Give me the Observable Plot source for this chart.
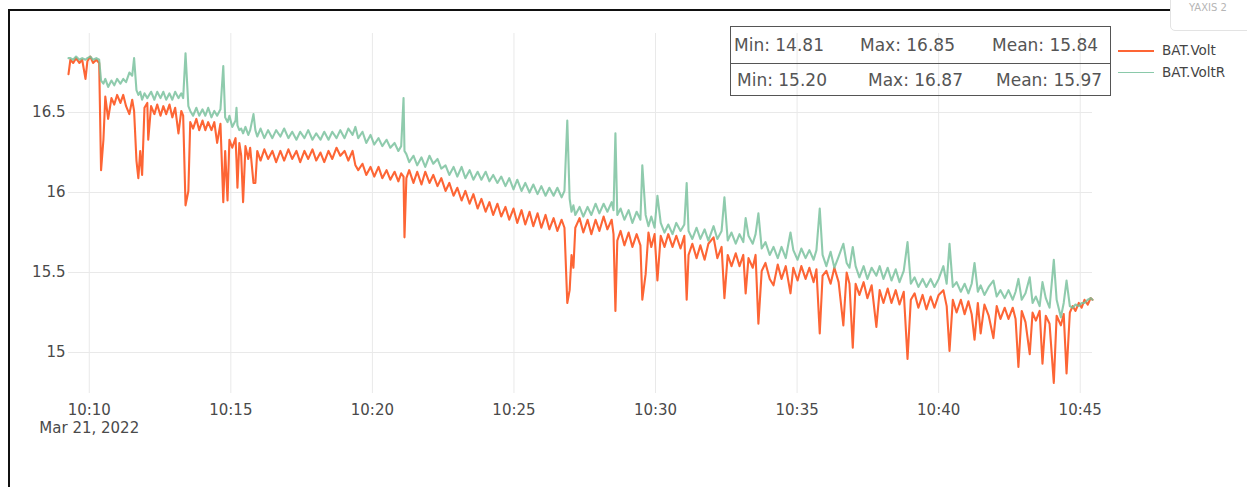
<!DOCTYPE html>
<html>
<head>
<meta charset="utf-8">
<script src="https://cdn.jsdelivr.net/npm/d3@7"></script>
<script src="https://cdn.jsdelivr.net/npm/@observablehq/plot@0.6"></script>
<style>
  html, body { margin: 0; padding: 0; background: #fff; }
  body { width: 1247px; height: 487px; overflow: hidden; position: relative; font-family: "DejaVu Sans", Verdana, sans-serif; }
  #chart { position: absolute; left: 0; top: 0; }
  #frame { position: absolute; left: 8px; top: 9px; width: 1300px; height: 500px; border-left: 2px solid #111; border-top: 2px solid #111; pointer-events: none; }
  #ybtn { position: absolute; left: 1170px; top: -6px; width: 90px; height: 37px; border: 1px solid #e3e3e3; border-radius: 5px; box-sizing: border-box; background: #fff; }
  #ybtn span { position: absolute; left: 18px; top: 8px; font-size: 10px; color: #b5b5b5; line-height: 10px; }
  #stats { position: absolute; left: 730px; top: 26px; width: 381px; height: 70px; border: 1px solid #555; box-sizing: border-box; color: #555; font-size: 17px; }
  #stats .sep { position: absolute; left: 0; right: 0; top: 36px; border-top: 1px solid #555; }
  #stats span { position: absolute; white-space: pre; line-height: 20px; }
  #legend { position: absolute; left: 1118px; top: 40px; font-size: 13.5px; color: #444; }
  #legend .item { position: absolute; left: 0; width: 130px; height: 20px; }
  #legend .sw { position: absolute; left: 0; width: 36px; top: 10px; }
  #legend .lab { position: absolute; left: 44px; top: 1px; line-height: 18px; white-space: nowrap; }
</style>
</head>
<body>
<div id="chart"></div>
<div id="frame"></div>
<div id="ybtn"><span>YAXIS 2</span></div>
<div id="stats"></div>
<div id="legend"></div>
<script>
// ---- data (seconds after 10:10:00 on Mar 21, 2022) ----
const secs = [
  -44,-40,-34,-28,-21,-15,-8,-4,2,8,
  15,21,25,30,34,40,47,53,59,66,
  72,78,85,91,95,100,104,108,112,117,
  123,125,131,138,144,151,157,163,170,176,
  182,189,195,199,204,210,214,220,227,233,
  240,246,252,259,265,271,278,284,288,293,
  297,303,310,312,314,318,322,326,331,337,
  341,348,352,356,363,371,379,388,396,405,
  413,422,430,439,447,456,464,473,481,490,
  498,507,515,524,532,541,549,558,564,570,
  579,587,596,604,613,621,630,638,647,655,
  661,666,668,672,678,687,695,704,712,721,
  729,738,746,755,763,772,780,789,797,806,
  814,823,831,840,848,856,865,873,882,890,
  899,907,916,924,933,941,950,958,967,975,
  984,992,1001,1007,1013,1018,1022,1026,1030,1039,
  1047,1056,1064,1073,1081,1090,1098,1107,1111,1115,
  1119,1126,1134,1143,1151,1160,1168,1172,1179,1185,
  1191,1198,1204,1211,1219,1227,1236,1244,1253,1261,
  1266,1270,1278,1287,1295,1304,1312,1323,1331,1340,
  1346,1353,1361,1370,1378,1386,1391,1397,1406,1412,
  1418,1425,1433,1442,1450,1459,1467,1476,1486,1492,
  1501,1509,1518,1526,1535,1541,1548,1554,1562,1571,
  1579,1588,1598,1605,1611,1618,1624,1632,1641,1649,
  1658,1668,1675,1683,1692,1700,1709,1717,1726,1734,
  1741,1749,1757,1766,1774,1783,1791,1800,1810,1817,
  1823,1830,1838,1847,1855,1863,1870,1876,1883,1889,
  1897,1906,1916,1923,1931,1940,1948,1957,1963,1969,
  1976,1984,1993,1999,2006,2014,2020,2027,2035,2044,
  2050,2059,2065,2071,2078,2084,2090,2097,2103,2109,
  2116,2122,2126
];
const volt = [
  16.74,16.83,16.81,16.84,16.81,16.83,16.71,16.82,16.85,16.81,
  16.83,16.81,16.14,16.33,16.60,16.46,16.59,16.55,16.61,16.56,
  16.61,16.54,16.49,16.58,16.51,16.20,16.09,16.26,16.11,16.53,
  16.56,16.33,16.54,16.49,16.55,16.48,16.54,16.49,16.55,16.47,
  16.53,16.37,16.51,16.48,15.92,16.01,16.44,16.40,16.46,16.39,
  16.45,16.39,16.44,16.39,16.44,16.31,16.43,15.94,16.26,15.95,
  16.33,16.28,16.34,16.20,16.03,16.31,16.23,15.94,16.29,16.21,
  16.28,16.06,16.06,16.26,16.20,16.27,16.21,16.26,16.19,16.26,
  16.20,16.27,16.21,16.26,16.19,16.26,16.21,16.27,16.20,16.25,
  16.19,16.26,16.21,16.28,16.23,16.26,16.20,16.26,16.17,16.14,
  16.18,16.11,16.16,16.10,16.16,16.09,16.14,16.08,16.13,16.07,
  16.12,16.10,15.72,16.09,16.14,16.06,16.13,16.05,16.13,16.06,
  16.11,16.04,16.09,16.01,16.06,15.98,16.03,15.95,16.01,15.93,
  15.99,15.90,15.96,15.88,15.94,15.86,15.93,15.85,15.91,15.83,
  15.90,15.81,15.89,15.80,15.88,15.79,15.87,15.78,15.86,15.77,
  15.84,15.76,15.83,15.78,15.31,15.39,15.61,15.53,15.78,15.84,
  15.75,15.83,15.74,15.83,15.76,15.85,15.77,15.83,15.74,15.26,
  15.70,15.76,15.67,15.75,15.66,15.74,15.67,15.33,15.49,15.75,
  15.66,15.74,15.45,15.73,15.66,15.74,15.66,15.73,15.65,15.73,
  15.33,15.61,15.68,15.59,15.67,15.58,15.68,15.72,15.59,15.66,
  15.34,15.61,15.54,15.62,15.54,15.61,15.37,15.59,15.53,15.61,
  15.18,15.51,15.56,15.46,15.42,15.55,15.46,15.54,15.37,15.53,
  15.45,15.54,15.46,15.53,15.44,15.52,15.12,15.48,15.51,15.43,
  15.53,15.44,15.17,15.50,15.43,15.03,15.43,15.36,15.44,15.34,
  15.42,15.16,15.39,15.31,15.40,15.31,15.39,15.30,15.38,14.96,
  15.33,15.37,15.28,15.36,15.27,15.35,15.28,15.36,15.39,15.29,
  15.01,15.33,15.25,15.33,15.24,15.32,15.24,15.08,15.31,15.12,
  15.30,15.23,15.09,15.29,15.21,15.28,15.21,15.28,15.21,14.91,
  15.26,15.19,14.99,15.25,15.20,15.26,14.93,15.23,15.18,14.81,
  15.23,15.17,15.24,14.87,15.25,15.29,15.26,15.31,15.28,15.33,
  15.30,15.34,15.33
];
const voltR = [
  16.84,16.84,16.83,16.85,16.83,16.84,16.83,16.84,16.85,16.83,
  16.84,16.83,16.70,16.68,16.71,16.66,16.70,16.67,16.71,16.68,
  16.71,16.69,16.75,16.73,16.84,16.64,16.61,16.63,16.58,16.62,
  16.59,16.60,16.63,16.58,16.63,16.59,16.63,16.58,16.62,16.58,
  16.63,16.59,16.62,16.59,16.87,16.54,16.51,16.48,16.53,16.48,
  16.52,16.48,16.53,16.47,16.51,16.48,16.52,16.79,16.47,16.44,
  16.48,16.41,16.45,16.53,16.42,16.39,16.40,16.37,16.41,16.36,
  16.39,16.49,16.39,16.35,16.40,16.34,16.39,16.34,16.39,16.35,
  16.40,16.34,16.38,16.33,16.38,16.34,16.39,16.33,16.37,16.33,
  16.38,16.33,16.38,16.34,16.39,16.34,16.40,16.36,16.41,16.34,
  16.38,16.31,16.36,16.30,16.34,16.29,16.33,16.28,16.31,16.26,
  16.29,16.59,16.26,16.24,16.19,16.23,16.17,16.22,16.16,16.23,
  16.18,16.21,16.15,16.17,16.11,16.16,16.10,16.16,16.09,16.14,
  16.08,16.13,16.08,16.13,16.07,16.11,16.06,16.10,16.04,16.09,
  16.02,16.08,16.01,16.06,16.00,16.05,15.99,16.04,15.98,16.03,
  15.98,16.03,15.97,16.01,16.45,15.96,15.88,15.92,15.86,15.91,
  15.85,15.91,15.86,15.93,15.87,15.93,15.88,15.94,15.89,16.37,
  15.86,15.90,15.83,15.89,15.81,15.88,15.83,16.17,15.86,15.79,
  15.85,15.78,15.98,15.81,15.75,15.80,15.74,15.81,15.76,15.80,
  16.06,15.76,15.71,15.78,15.71,15.77,15.70,15.79,15.71,15.76,
  15.97,15.70,15.75,15.68,15.74,15.69,15.84,15.73,15.68,15.74,
  15.87,15.65,15.69,15.61,15.66,15.59,15.66,15.59,15.75,15.64,
  15.58,15.65,15.59,15.64,15.58,15.64,15.90,15.61,15.54,15.63,
  15.53,15.60,15.68,15.56,15.53,15.66,15.54,15.47,15.54,15.46,
  15.53,15.48,15.54,15.46,15.53,15.45,15.52,15.44,15.51,15.69,
  15.43,15.47,15.41,15.46,15.41,15.46,15.41,15.46,15.54,15.43,
  15.68,15.41,15.44,15.38,15.43,15.37,15.43,15.56,15.38,15.42,
  15.36,15.41,15.45,15.35,15.39,15.34,15.39,15.33,15.38,15.46,
  15.33,15.37,15.47,15.31,15.35,15.29,15.44,15.34,15.28,15.58,
  15.33,15.22,15.31,15.45,15.29,15.28,15.30,15.29,15.31,15.31,
  15.33,15.34,15.33
];
const seriesNames = ["BAT.Volt", "BAT.VoltR"];
const seriesColors = ["#fd6535", "#76bf9b"];
const statMin = ["14.81", "15.20"];
const statMax = ["16.85", "16.87"];
const statMean = ["15.84", "15.97"];
const xTickLabels = ["10:10", "10:15", "10:20", "10:25", "10:30", "10:35", "10:40", "10:45"];
const dateLabel = "Mar 21, 2022";
const yTicks = [15, 15.5, 16, 16.5];

// ---- build ----
const base = new Date(2022, 2, 21, 10, 10, 0);
const n = Math.min(secs.length, volt.length, voltR.length);
const rows = [];
for (let i = 0; i < n; i++) rows.push({ t: new Date(base.getTime() + secs[i] * 1000), volt: volt[i], voltR: voltR[i] });
const xTicks = xTickLabels.map(l => { const [h, m] = l.split(":").map(Number); return new Date(2022, 2, 21, h, m, 0); });
const labelFor = d => { const i = xTicks.findIndex(t => +t === +d); return i >= 0 ? xTickLabels[i] : ""; };

const chart = Plot.plot({
  width: 1247,
  height: 440,
  marginLeft: 68,
  marginRight: 155,
  marginTop: 33,
  marginBottom: 47,
  style: { fontFamily: "DejaVu Sans, Verdana, sans-serif", fontSize: "15px", color: "#444", background: "transparent", overflow: "visible" },
  x: { type: "time", domain: d3.extent(rows, d => d.t), label: null },
  y: { domain: [14.744, 16.994], label: null },
  marks: [
    Plot.gridX(xTicks, { stroke: "#e9e9e9", strokeOpacity: 1, strokeWidth: 1 }),
    Plot.gridY(yTicks, { stroke: "#e9e9e9", strokeOpacity: 1, strokeWidth: 1 }),
    Plot.axisX(xTicks, { tickSize: 0, tickPadding: 11, tickFormat: labelFor, fill: "#4a4a4a", fontSize: 15, label: null }),
    Plot.axisY(yTicks, { tickSize: 0, tickPadding: 3, tickFormat: d => String(d), fill: "#4a4a4a", fontSize: 15, label: null }),
    Plot.text([xTicks[0]], { x: d => d, frameAnchor: "bottom", dy: 35, lineAnchor: "middle", text: () => dateLabel, fill: "#4a4a4a", fontSize: 15 }),
    Plot.lineY(rows, { x: "t", y: "volt", stroke: seriesColors[0], strokeWidth: 2.1 }),
    Plot.lineY(rows, { x: "t", y: "voltR", stroke: seriesColors[1], strokeOpacity: 0.82, strokeWidth: 2.1 })
  ]
});
document.getElementById("chart").appendChild(chart);

// stats box
const stats = document.getElementById("stats");
const rowTops = [8, 43];
const colLefts = [[3, 129, 261], [6, 137, 265]];
for (let r = 0; r < 2; r++) {
  const texts = ["Min: " + statMin[r], "Max: " + statMax[r], "Mean: " + statMean[r]];
  texts.forEach((t, c) => {
    const s = document.createElement("span");
    s.textContent = t;
    s.style.left = colLefts[r][c] + "px";
    s.style.top = rowTops[r] + "px";
    stats.appendChild(s);
  });
}
const sep = document.createElement("div"); sep.className = "sep"; stats.appendChild(sep);

// legend
const legend = document.getElementById("legend");
seriesNames.forEach((name, i) => {
  const item = document.createElement("div");
  item.className = "item";
  item.style.top = (i * 22) + "px";
  const sw = document.createElement("div");
  sw.className = "sw";
  sw.style.borderTop = (i === 0 ? 2 : 1.5) + "px solid " + seriesColors[i];
  if (i === 1) sw.style.opacity = 0.85;
  const lab = document.createElement("div");
  lab.className = "lab";
  lab.textContent = name;
  item.appendChild(sw); item.appendChild(lab);
  legend.appendChild(item);
});
</script>
</body>
</html>
